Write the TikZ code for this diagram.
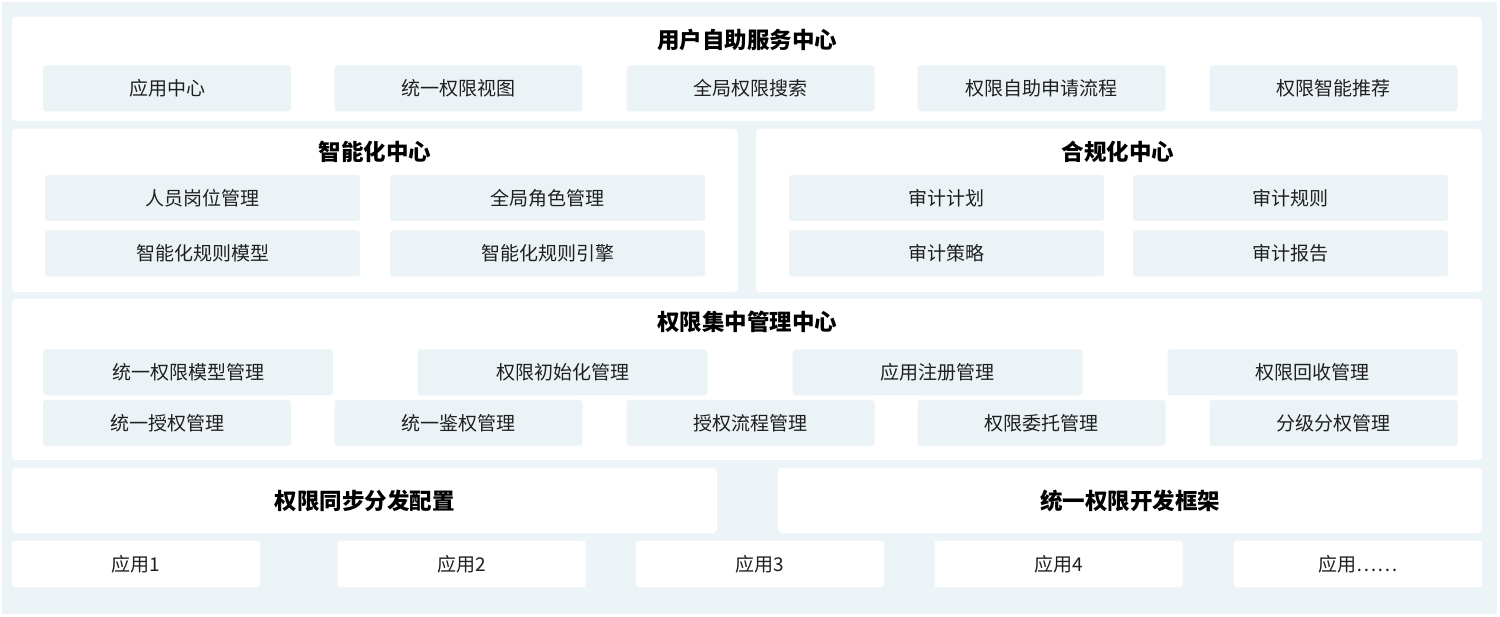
\documentclass[tikz,border=0pt]{standalone}
\usepackage{fontspec}
\setmainfont{Noto Sans CJK SC}
\usetikzlibrary{positioning}

\definecolor{bgblue}{HTML}{EDF4F8}
\definecolor{itemblue}{HTML}{ECF3F7}
\definecolor{inkgrey}{HTML}{1F1F1F}

\tikzset{
    panel/.style={fill=white, rounded corners=4pt},
    item/.style={fill=itemblue, rounded corners=3pt, minimum height=46pt, inner sep=0pt,
        text=inkgrey, font=\fontsize{19}{19}\selectfont},
    app/.style={item, fill=white, minimum width=248pt},
    title/.style={text=black, font=\fontsize{22.5}{22.5}\selectfont\bfseries, inner sep=0pt},
}

\begin{document}
\begin{tikzpicture}[x=1pt, y=-1pt]
        \useasboundingbox (0,0) rectangle (1500,617);
        \fill[bgblue](2,2) rectangle (1497,614);

        % user self-service
        \fill[panel](12,17) rectangle (1482,121);
            \node[title] (selfT) at (747,40) {用户自助服务中心};
            \node[item, minimum width=248pt] (s1) at (167,88.5) {应用中心};
            \node[item, minimum width=248pt] (s2) at (458.5,88.5) {统一权限视图};
            \node[item, minimum width=248pt] (s3) at (750.5,88.5) {全局权限搜索};
            \node[item, minimum width=248pt] (s4) at (1041.5,88.5) {权限自助申请流程};
            \node[item, minimum width=248pt] (s5) at (1333.5,88.5) {权限智能推荐};

        % intelligence
        \fill[panel](12,129) rectangle (738,292);
            \node[title] (intT) at (375,152) {智能化中心};
            \node[item, minimum width=315pt] (i1) at (202.5,198) {人员岗位管理};
            \node[item, minimum width=315pt] (i2) at (547.5,198) {全局角色管理};
            \node[item, minimum width=315pt] (i3) at (202.5,253.5) {智能化规则模型};
            \node[item, minimum width=315pt] (i4) at (547.5,253.5) {智能化规则引擎};

        % compliance
        \fill[panel](756,129) rectangle (1482,292);
            \node[title] (cmpT) at (1118,152) {合规化中心};
            \node[item, minimum width=315pt] (c1) at (946.5,198) {审计计划};
            \node[item, minimum width=315pt] (c2) at (1290.5,198) {审计规则};
            \node[item, minimum width=315pt] (c3) at (946.5,253.5) {审计策略};
            \node[item, minimum width=315pt] (c4) at (1290.5,253.5) {审计报告};

        % central management
        \fill[panel](12,299) rectangle (1482,460);
            \node[title] (mgmT) at (747,322) {权限集中管理中心};
            \node[item, minimum width=290pt] (m1) at (188,372.5) {统一权限模型管理};
            \node[item, minimum width=290pt] (m2) at (562.5,372.5) {权限初始化管理};
            \node[item, minimum width=290pt] (m3) at (937.5,372.5) {应用注册管理};
            \node[item, minimum width=290pt] (m4) at (1312.5,372.5) {权限回收管理};
            \node[item, minimum width=248pt] (m5) at (167,423) {统一授权管理};
            \node[item, minimum width=248pt] (m6) at (458.5,423) {统一鉴权管理};
            \node[item, minimum width=248pt] (m7) at (750.5,423) {授权流程管理};
            \node[item, minimum width=248pt] (m8) at (1041.5,423) {权限委托管理};
            \node[item, minimum width=248pt] (m9) at (1333.5,423) {分级分权管理};

        % sync and framework
        \node[title, panel, minimum width=705pt, minimum height=65pt] (sync) at (364.5,500.5) {权限同步分发配置};
        \node[title, panel, minimum width=704pt, minimum height=65pt] (frame) at (1130,500.5) {统一权限开发框架};

        % applications
        \node[app] (a1) at (136,564) {应用1};
        \node[app] (a2) at (461.5,564) {应用2};
        \node[app] (a3) at (760,564) {应用3};
        \node[app] (a4) at (1058.5,564) {应用4};
        \node[app] (a5) at (1358,564) {应用……};

    \end{tikzpicture}
\end{document}
